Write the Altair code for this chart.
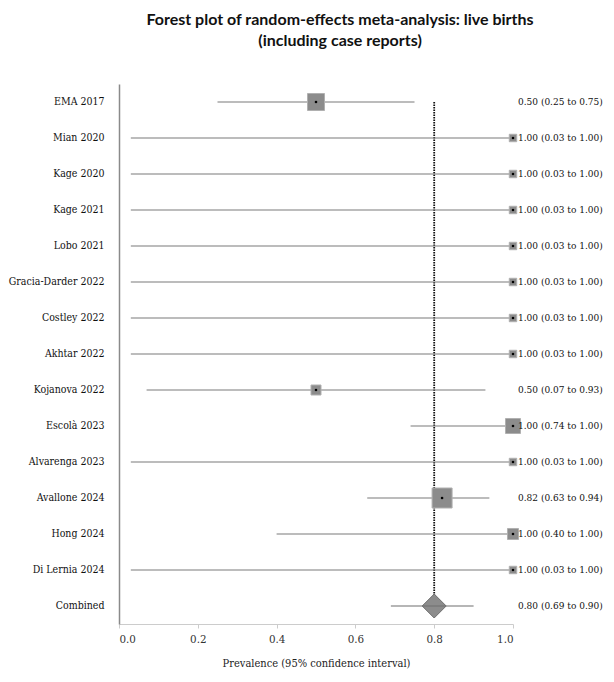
import altair as alt
import pandas as pd

studies = ["EMA 2017", "Mian 2020", "Kage 2020", "Kage 2021", "Lobo 2021",
           "Gracia-Darder 2022", "Costley 2022", "Akhtar 2022", "Kojanova 2022",
           "Escolà 2023", "Alvarenga 2023", "Avallone 2024", "Hong 2024",
           "Di Lernia 2024", "Combined"]
estimate = [0.50, 1.00, 1.00, 1.00, 1.00, 1.00, 1.00, 1.00, 0.50, 1.00, 1.00, 0.82, 1.00, 1.00, 0.80]
lower = [0.25, 0.03, 0.03, 0.03, 0.03, 0.03, 0.03, 0.03, 0.07, 0.74, 0.03, 0.63, 0.40, 0.03, 0.69]
upper = [0.75, 1.00, 1.00, 1.00, 1.00, 1.00, 1.00, 1.00, 0.93, 1.00, 1.00, 0.94, 1.00, 1.00, 0.90]
weight = [17.6, 3.4, 3.4, 3.4, 3.4, 3.4, 3.4, 3.4, 6.1, 13.7, 3.4, 24.4, 7.4, 3.4, 0.0]
kind = ["study"] * 14 + ["pooled"]
x_ticks = [0.0, 0.2, 0.4, 0.6, 0.8, 1.0]

df = pd.DataFrame({
    "study": studies, "estimate": estimate, "lower": lower, "upper": upper,
    "weight": weight, "kind": kind,
})
df["label"] = [f"{e:.2f} ({l:.2f} to {u:.2f})" for e, l, u in zip(estimate, lower, upper)]

ref = pd.DataFrame({"study": [studies[0]], "study_end": [studies[-1]], "estimate": [estimate[-1]]})

SERIF = "DejaVu Serif Condensed, DejaVu Serif"

yenc = alt.Y("study:N", scale=alt.Scale(domain=studies),
             axis=alt.Axis(title=None, ticks=False, grid=False, domainColor="#8a8a8a",
                           domainWidth=1.5, labelFont=SERIF, labelFontSize=10.5,
                           labelColor="#111111", labelPadding=15))
xaxis = alt.Axis(values=x_ticks, format=".1f", grid=False, domainColor="#cccccc",
                 tickColor="#cccccc", tickSize=4, labelFont=SERIF, labelFontSize=11.5,
                 labelColor="#333333", labelPadding=5,
                 title="Prevalence (95% confidence interval)", titleFont=SERIF,
                 titleFontWeight="normal", titleFontSize=11, titleColor="#222222",
                 titlePadding=13)
xscale = alt.Scale(domain=[0, 1], nice=False, zero=False)

base = alt.Chart(df).encode(y=yenc)
studies_only = base.transform_filter(alt.datum.kind == "study")
pooled_only = base.transform_filter(alt.datum.kind == "pooled")

ref_rule = alt.Chart(ref).mark_rule(color="#111111", strokeWidth=1.8, strokeDash=[1.5, 1]).encode(
    x=alt.X("estimate:Q", scale=xscale, axis=xaxis),
    y=yenc, y2="study_end:N")

ci = studies_only.mark_rule(color="#7a7a7a", strokeWidth=1.2).encode(
    x=alt.X("lower:Q", scale=xscale, axis=xaxis), x2="upper:Q")

boxes = studies_only.mark_square(filled=True, color="#8c8c8c", stroke="#b0b0b0",
                                 strokeWidth=1, opacity=1).encode(
    x=alt.X("estimate:Q", scale=xscale, axis=xaxis),
    size=alt.Size("weight:Q", scale=alt.Scale(domain=[0, 24.4], range=[0, 400], zero=True),
                  legend=None))

diamond = pooled_only.mark_point(shape="diamond", filled=True, size=576, color="#8c8c8c",
                                 stroke="#6e6e6e", strokeWidth=1, opacity=1).encode(
    x=alt.X("estimate:Q", scale=xscale, axis=xaxis))

pooled_ci = pooled_only.mark_rule(color="#6e6e6e", strokeWidth=1.2).encode(
    x=alt.X("lower:Q", scale=xscale, axis=xaxis), x2="upper:Q")

dots = studies_only.mark_point(filled=True, color="#000000", size=7, opacity=1).encode(
    x=alt.X("estimate:Q", scale=xscale, axis=xaxis))

labels = base.mark_text(align="left", baseline="middle", dx=5, font=SERIF, fontSize=10,
                        color="#111111").encode(
    x=alt.X(datum=1.0, type="quantitative", scale=xscale, axis=xaxis),
    text="label:N")

chart = alt.layer(ref_rule, ci, boxes, diamond, pooled_ci, dots, labels).properties(
    width=394, height=540,
    autosize=alt.AutoSizeParams(type="none"),
    padding={"left": 111, "top": 76, "right": 93, "bottom": 50},
    title=alt.TitleParams(
        text=["Forest plot of random-effects meta-analysis: live births",
              "(including case reports)"],
        font="Lato", fontSize=16, fontWeight="bold", color="#111111",
        anchor="middle", dx=24, offset=35, lineHeight=21),
).configure_view(stroke=None)

chart.save("out.html", embed_options={"renderer": "svg", "actions": False})
